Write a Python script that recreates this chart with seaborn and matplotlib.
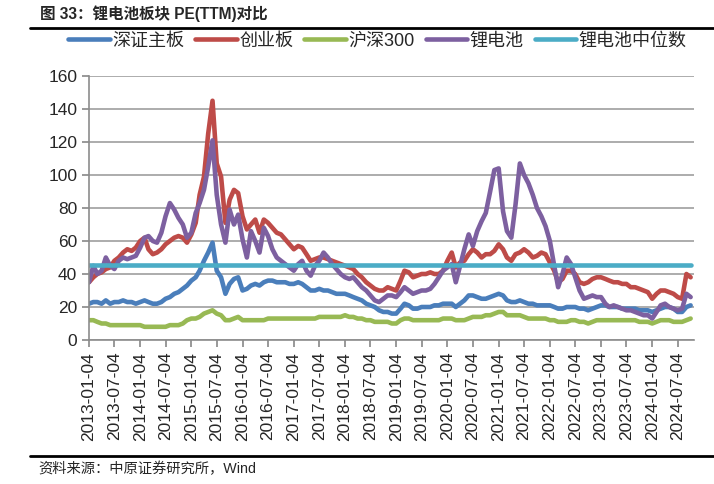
import pandas as pd
import matplotlib
matplotlib.use("Agg")
import matplotlib.pyplot as plt
import seaborn as sns
from matplotlib.lines import Line2D

# 月度 PE(TTM)，2013-01 ~ 2024-10（从图上读数估计）
series_names = ["深证主板", "创业板", "沪深300", "锂电池", "锂电池中位数"]
colors = ["#4a7ebb", "#be4b48", "#98b954", "#7d60a0", "#4bacc6"]

szzb = [22, 23, 23, 22, 24, 22, 23, 23, 24, 23, 23, 22,
        23, 24, 23, 22, 22, 23, 25, 26, 28, 29, 31, 33,
        36, 38, 42, 48, 53, 59, 42, 38, 28, 34, 37, 38,
        30, 31, 33, 34, 33, 35, 36, 36, 35, 35, 35, 34,
        34, 35, 34, 32, 30, 30, 31, 30, 30, 29, 28, 28,
        28, 27, 26, 25, 24, 22, 21, 20, 18, 17, 17, 16,
        16, 19, 22, 21, 19, 19, 20, 20, 20, 21, 21, 22,
        22, 22, 20, 22, 24, 27, 27, 26, 25, 25, 26, 27,
        28, 27, 24, 23, 23, 24, 23, 22, 22, 21, 21, 21,
        21, 20, 19, 19, 20, 20, 20, 19, 19, 18, 19, 20,
        21, 21, 20, 20, 20, 19, 19, 19, 19, 18, 18, 18,
        17, 18, 19, 20, 20, 19, 17, 17, 20, 21]

cyb = [35, 38, 40, 41, 43, 44, 48, 50, 53, 55, 54, 56,
       60, 62, 55, 52, 53, 55, 58, 60, 62, 63, 62, 59,
       64, 71, 88, 99, 125, 145, 107, 99, 71, 85, 91, 89,
       75, 67, 70, 73, 65, 73, 71, 68, 65, 64, 61, 58,
       55, 57, 56, 52, 48, 49, 50, 50, 49, 48, 47, 46,
       45, 44, 43, 40, 38, 35, 33, 31, 30, 30, 32, 31,
       30, 36, 42, 41, 38, 39, 40, 40, 41, 40, 40, 42,
       48, 53, 44, 47, 48, 52, 55, 53, 50, 52, 52, 54,
       58, 55, 50, 48, 52, 53, 55, 53, 50, 51, 53, 52,
       47, 42, 35, 37, 42, 42, 40, 35, 34, 35, 37, 38,
       38, 37, 36, 35, 35, 34, 34, 32, 32, 31, 30, 29,
       25, 28, 30, 30, 29, 28, 26, 25, 40, 38]

hs300 = [12, 12, 11, 10, 10, 9, 9, 9, 9, 9, 9, 9,
         9, 8, 8, 8, 8, 8, 8, 9, 9, 9, 10, 12,
         13, 13, 14, 16, 17, 18, 16, 15, 12, 12, 13, 14,
         12, 12, 12, 12, 12, 12, 13, 13, 13, 13, 13, 13,
         13, 13, 13, 13, 13, 13, 14, 14, 14, 14, 14, 14,
         15, 14, 14, 13, 13, 12, 12, 11, 11, 11, 11, 10,
         10, 12, 13, 13, 12, 12, 12, 12, 12, 12, 12, 13,
         13, 13, 12, 12, 12, 13, 14, 14, 14, 15, 15, 16,
         17, 17, 15, 15, 15, 15, 14, 13, 13, 13, 13, 13,
         12, 12, 11, 11, 11, 12, 12, 11, 11, 10, 11, 12,
         12, 12, 12, 12, 12, 12, 12, 12, 12, 11, 11, 11,
         10, 11, 12, 12, 12, 11, 11, 11, 12, 13]

lidian = [35, 45, 40, 42, 50, 45, 43, 48, 50, 49, 50, 51,
          56, 62, 63, 60, 59, 65, 75, 83, 79, 74, 70, 62,
          65, 77, 83, 91, 105, 121, 88, 70, 59, 79, 70, 76,
          61, 50, 66, 60, 53, 68, 63, 55, 50, 48, 46, 44,
          42, 46, 48, 42, 39, 45, 48, 53, 50, 46, 43, 40,
          38, 37, 38, 35, 32, 30, 27, 24, 23, 25, 27, 27,
          26, 29, 32, 30, 28, 29, 30, 30, 31, 34, 38, 42,
          44, 46, 35, 45, 55, 64, 57, 66, 72, 77, 90, 103,
          104, 78, 66, 62, 82, 107, 100, 95, 88, 80, 75, 69,
          60, 45, 32, 40, 50, 46, 38, 30, 25, 26, 27, 26,
          26, 22, 20, 21, 20, 19, 18, 18, 17, 16, 15, 15,
          13, 17, 21, 22, 20, 19, 18, 19, 28, 26]

lidian_median = 45.5

tick_labels = [f"{y}-{m:02d}-04" for y in range(2013, 2025) for m in (1, 7)]

dates = pd.date_range("2013-01-01", periods=len(cyb), freq="MS") + pd.Timedelta(days=3)
df = pd.DataFrame({
    "date": dates,
    "深证主板": szzb,
    "创业板": cyb,
    "沪深300": hs300,
    "锂电池": lidian,
    "锂电池中位数": [lidian_median] * len(dates),
})
long_df = df.melt(id_vars="date", var_name="series", value_name="pe")

sns.set_theme(style="white")
plt.rcParams["font.family"] = ["Liberation Sans", "Noto Sans CJK SC", "DejaVu Sans"]

fig = plt.figure(figsize=(7.14, 4.84), dpi=100)
ax = fig.add_axes([89 / 714, 1 - 340 / 484, 605 / 714, 264 / 484])

sns.lineplot(data=long_df, x="date", y="pe", hue="series", hue_order=series_names,
             palette=dict(zip(series_names, colors)), linewidth=3.3, ax=ax)

ax.set_ylim(0, 160)
ax.set_yticks(range(0, 161, 20))
ax.set_xlim(pd.Timestamp("2013-01-04"), pd.Timestamp("2024-10-28"))
ax.set_xticks(pd.to_datetime(tick_labels))
ax.set_xticklabels(tick_labels, rotation=90, fontsize=12.5)
ax.tick_params(axis="y", labelsize=12.5, length=5, color="#8c8c8c", direction="out", left=True)
ax.tick_params(axis="x", length=5, color="#8c8c8c", direction="out", bottom=True)
ax.set_xlabel("")
ax.set_ylabel("")
ax.yaxis.grid(True, color="#a6a6a6", linewidth=1.3)
ax.xaxis.grid(False)
for side in ["top", "right"]:
    ax.spines[side].set_visible(False)
for side in ["left", "bottom"]:
    ax.spines[side].set_color("#8c8c8c")
    ax.spines[side].set_linewidth(1.2)

handles, labels = ax.get_legend_handles_labels()
ax.legend(handles, labels, loc="center", ncol=5, frameon=False,
          bbox_to_anchor=((72 + 683) / 2 / 714, 1 - 41 / 484), bbox_transform=fig.transFigure,
          fontsize=13, handlelength=2.3, handletextpad=0.15, columnspacing=0.6)

fig.text(40 / 714, 1 - 14 / 484, "图 33：锂电池板块 PE(TTM)对比", fontsize=11.2,
         fontweight="bold", va="center", ha="left")
fig.add_artist(Line2D([30 / 714, 1], [1 - 28 / 484] * 2, transform=fig.transFigure,
                      color="black", linewidth=2))
fig.add_artist(Line2D([30 / 714, 1], [1 - 456 / 484] * 2, transform=fig.transFigure,
                      color="black", linewidth=2))
fig.text(38 / 714, 1 - 469 / 484, "资料来源：中原证券研究所，Wind", fontsize=10.3,
         va="center", ha="left")

fig.savefig("out.png", dpi=100)
